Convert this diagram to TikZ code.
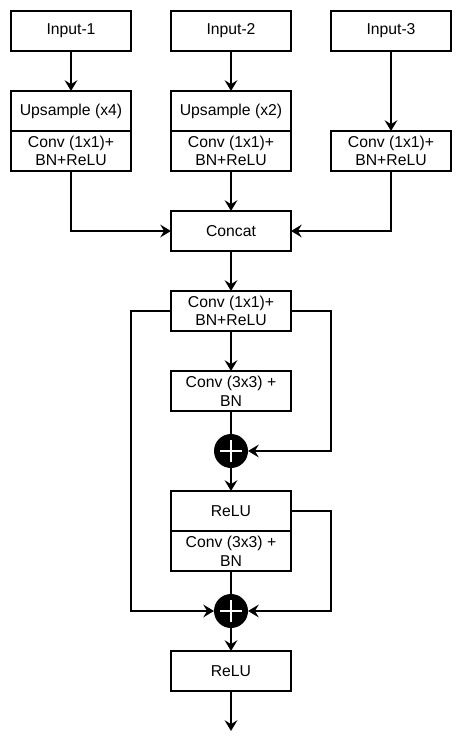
\documentclass[tikz,border=0pt]{standalone}
\usepackage{fontspec}
\setmainfont{Liberation Sans}
\usetikzlibrary{arrows.meta,positioning,calc}
\tikzstyle{box}=[rectangle,draw,line width=1.4pt,minimum width=90pt,minimum height=30pt,inner sep=1pt,outer sep=0pt,align=center,font=\fontsize{11.8}{14}\selectfont]
\tikzstyle{add}=[circle,fill=black,minimum size=25.5pt,inner sep=0pt,outer sep=0pt]
\tikzstyle{flow}=[-{Stealth[length=8pt,width=9.5pt,inset=2.8pt]},line width=1.4pt]
\tikzstyle{link}=[line width=1.4pt]

\begin{document}
\begin{tikzpicture}[x=0.75pt,y=-0.75pt,node distance=30pt]
\useasboundingbox (0,0) rectangle (462,750);

\node (in1) [box] at (71,31) {Input-1};
\node (in2) [box,right=of in1] {Input-2};
\node (in3) [box,right=of in2] {Input-3};

\node (up1) [box,below=of in1] {Upsample (x4)};
\node (cv1) [box,below=0pt of up1] {Conv (1x1)+\\BN+ReLU};
\node (up2) [box,below=of in2] {Upsample (x2)};
\node (cv2) [box,below=0pt of up2] {Conv (1x1)+\\BN+ReLU};
\node (cv3) [box] at (in3 |- cv2) {Conv (1x1)+\\BN+ReLU};

\node (concat) [box,below=of cv2] {Concat};
\node (conv1) [box,below=of concat] {Conv (1x1)+\\BN+ReLU};
\node (conv3) [box,below=of conv1] {Conv (3x3) +\\BN};
\node (relu1) [box,below=60pt of conv3] {ReLU};
\node (conv3b) [box,below=0pt of relu1] {Conv (3x3) +\\BN};
\node (relu2) [box,below=60pt of conv3b] {ReLU};
\coordinate [below=of relu2] (out);

\node (plus1) [add] at ($(conv3.south)!0.5!(relu1.north)$) {};
\node (plus2) [add] at ($(conv3b.south)!0.5!(relu2.north)$) {};
\foreach \p in {plus1,plus2}
  \draw [white,line width=2.2pt] ([xshift=-8.2pt]\p.center) -- ([xshift=8.2pt]\p.center)
    ([yshift=-8.2pt]\p.center) -- ([yshift=8.2pt]\p.center);

\draw [flow] (in1) -- (up1);
\draw [flow] (in2) -- (up2);
\draw [flow] (in3) -- (cv3);
\draw [flow] (cv1.south) |- (concat.west);
\draw [flow] (cv2) -- (concat);
\draw [flow] (cv3.south) |- (concat.east);
\draw [flow] (concat) -- (conv1);
\draw [flow] (conv1) -- (conv3);
\draw [link] (conv3) -- (plus1);
\draw [flow] (plus1) -- (relu1);
\draw [link] (conv3b) -- (plus2);
\draw [flow] (plus2) -- (relu2);
\draw [flow] (relu2) -- (out);
\draw [flow] (conv1.east) -- (conv1.east -| in3.west) |- (plus1.east);
\draw [flow] (conv1.west) -- (conv1.west -| in1.east) |- (plus2.west);
\draw [flow] (relu1.east) -- (relu1.east -| in3.west) |- (plus2.east);

\end{tikzpicture}
\end{document}
